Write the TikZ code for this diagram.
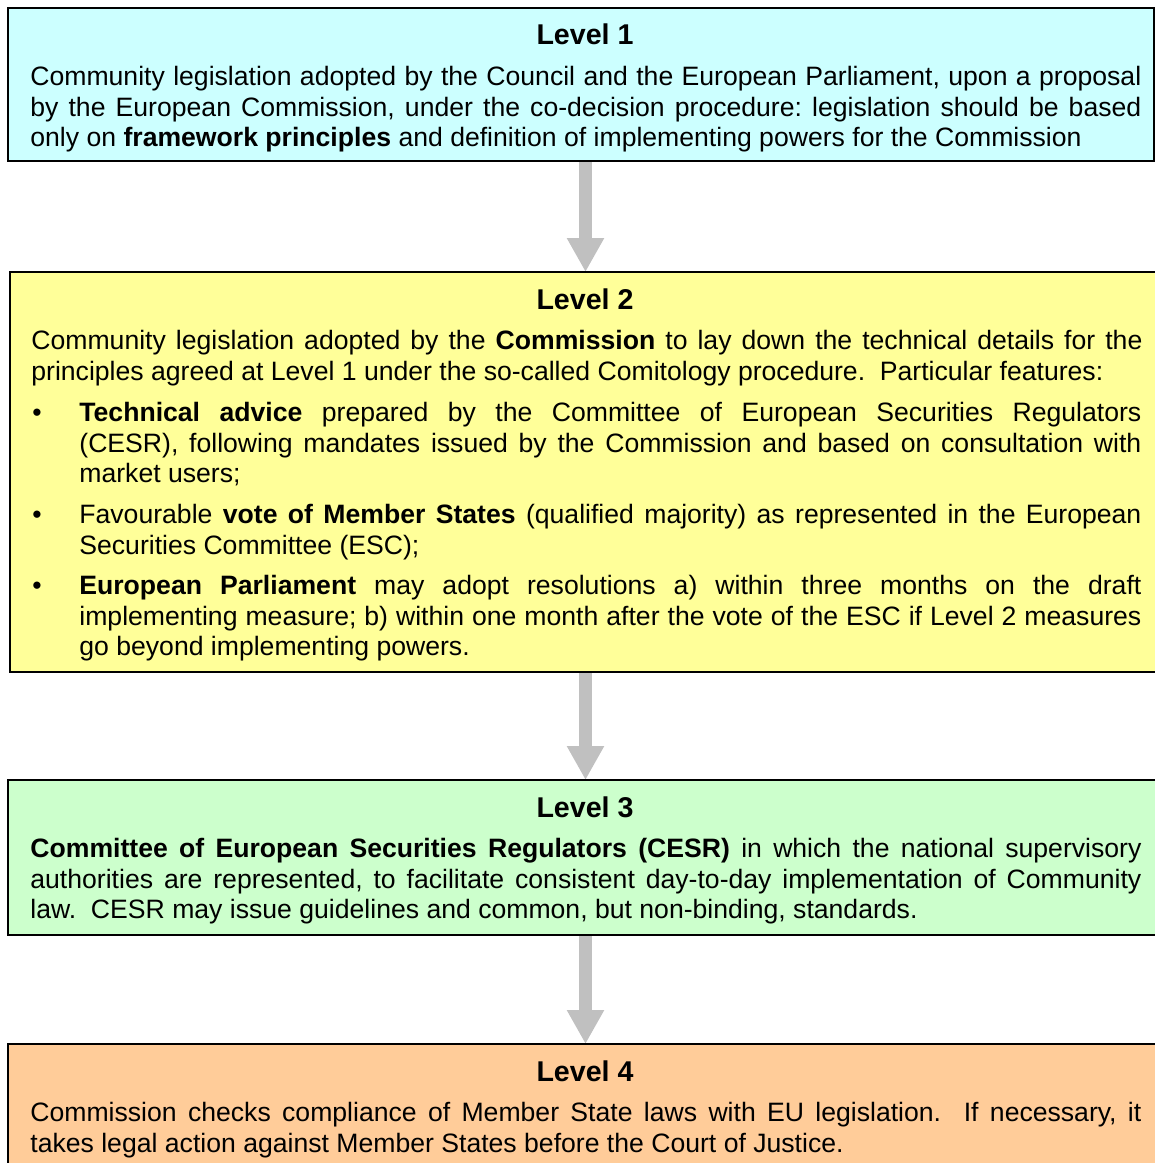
\documentclass[tikz,border=0pt]{standalone}
\usepackage{fontspec}
\setmainfont{Liberation Sans}
\usetikzlibrary{arrows.meta,backgrounds}
\definecolor{lvone}{HTML}{CCFFFF}
\definecolor{lvtwo}{HTML}{FFFF99}
\definecolor{lvthree}{HTML}{CCFFCC}
\definecolor{lvfour}{HTML}{FFCC99}
\definecolor{arrowgray}{HTML}{C0C0C0}
\frenchspacing
\begin{document}
\frenchspacing
\begin{tikzpicture}[x=0.5pt,y=-0.5pt,
  box/.style={draw=black, line width=1pt, rectangle, anchor=north west, inner sep=0pt, outer sep=0pt},
  ltitle/.style={anchor=north, inner sep=0pt, font=\bfseries\fontsize{14.3pt}{16pt}\selectfont},
  para/.style={anchor=north west, inner sep=0pt, text width=555.5pt, align=justify, font=\fontsize{13.3pt}{15.25pt}\selectfont\frenchspacing},
  itempara/.style={para, text width=531pt},
  bulletmark/.style={anchor=north west, inner sep=0pt, font=\fontsize{13.3pt}{15.25pt}\selectfont},
  bigarrow/.style={draw=arrowgray, line width=6.5pt, -{Triangle[width=17.5pt,length=17pt]}}]
\clip (0,0) rectangle (1155,1163);
% boxes
\node[box, fill=lvone, minimum width=573pt, minimum height=76.5pt] (b1) at (8,8) {};
\node[box, fill=lvtwo, minimum width=574pt, minimum height=200pt] (b2) at (10,272) {};
\node[box, fill=lvthree, minimum width=575pt, minimum height=77.5pt] (b3) at (8,780) {};
\node[box, fill=lvfour, minimum width=575pt, minimum height=63pt] (b4) at (8,1044) {};
\coordinate (ax) at (585.5,0);
% background and arrows
\begin{scope}[on background layer]
\fill[white] (0,0) rectangle (1155,1163);
\draw[bigarrow] (b1.south -| ax) -- (b2.north -| ax);
\draw[bigarrow] (b2.south -| ax) -- (b3.north -| ax);
\draw[bigarrow] (b3.south -| ax) -- (b4.north -| ax);
\end{scope}
% Level 1
\node[ltitle] (t1) at (585,23) {Level 1};
\node[para] (p1) at (30,66) {Community legislation adopted by the Council and the European Parliament, upon a proposal\linebreak by the European Commission, under the co-decision procedure: legislation should be based\linebreak only on \textbf{framework principles} and definition of implementing powers for the Commission};
% Level 2
\node[ltitle] (t2) at (585,288) {Level 2};
\node[para] (p2) at (31,330) {Community legislation adopted by the \textbf{Commission} to lay down the technical details for the\linebreak principles agreed at Level 1 under the so-called Comitology procedure.\ \ Particular features:};
\node[bulletmark] (m1) at (32,402) {\vphantom{Tl}•};
\node[itempara] (p2a) at (79,402) {\textbf{Technical advice} prepared by the Committee of European Securities Regulators\linebreak (CESR), following mandates issued by the Commission and based on consultation with\linebreak market users;};
\node[bulletmark] (m2) at (32,504) {\vphantom{Tl}•};
\node[itempara] (p2b) at (79,504) {Favourable \textbf{vote of Member States} (qualified majority) as represented in the European\linebreak Securities Committee (ESC);};
\node[bulletmark] (m3) at (32,575) {\vphantom{Tl}•};
\node[itempara] (p2c) at (79,575) {\textbf{European Parliament} may adopt resolutions a) within three months on the draft\linebreak implementing measure; b) within one month after the vote of the ESC if Level 2 measures\linebreak go beyond implementing powers.};
% Level 3
\node[ltitle] (t3) at (585,796) {Level 3};
\node[para] (p3) at (30,838) {\textbf{Committee of European Securities Regulators (CESR)} in which the national supervisory\linebreak authorities are represented, to facilitate consistent day-to-day implementation of Community\linebreak law.\ \ CESR may issue guidelines and common, but non-binding, standards.};
% Level 4
\node[ltitle] (t4) at (585,1060) {Level 4};
\node[para] (p4) at (30,1102) {Commission checks compliance of Member State laws with EU legislation.\ \ If necessary, it\linebreak takes legal action against Member States before the Court of Justice.};
\end{tikzpicture}
\end{document}
